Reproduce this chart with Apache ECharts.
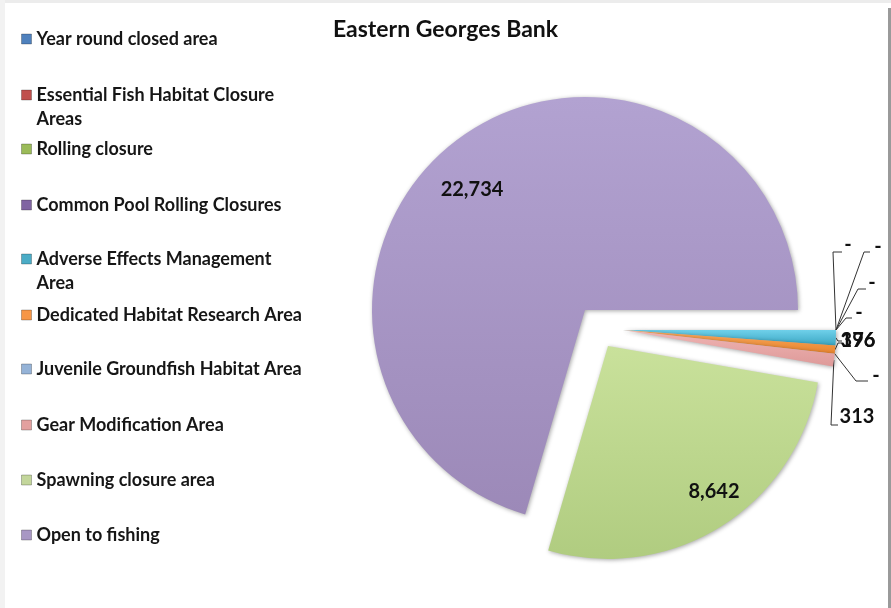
<!DOCTYPE html>
<html><head><meta charset="utf-8">
<script src="https://cdn.jsdelivr.net/npm/echarts@6/dist/echarts.min.js"></script>
<style>html,body{margin:0;padding:0;background:#fff}#c{width:891px;height:608px}</style>
</head><body><div id="c"></div>
<script>
const chartTitle = 'Eastern Georges Bank';
const categories = ['Year round closed area','Essential Fish Habitat Closure Areas','Rolling closure','Common Pool Rolling Closures','Adverse Effects Management Area','Dedicated Habitat Research Area','Juvenile Groundfish Habitat Area','Gear Modification Area','Spawning closure area','Open to fishing'];
const values = [0,0,0,0,376,196,0,313,8642,22734];
const legendLabels = ['Year round closed area','Essential Fish Habitat Closure\nAreas','Rolling closure','Common Pool Rolling Closures','Adverse Effects Management\nArea','Dedicated Habitat Research Area','Juvenile Groundfish Habitat Area','Gear Modification Area','Spawning closure area','Open to fishing'];
const colors = ['#4f81bd','#c0504d','#9bbb59','#8064a2','#4bacc6','#f79646','#95b3d7','#e3a09f','#c3d69b','#a897c4'];

// exploded groups: which categories are drawn with which (offset) centre — layout only
const groups = [
  {center:[623,330], members:[0,1,2,3,4,5,6,7]},
  {center:[608,346], members:[8]},
  {center:[585,310], members:[9]}
];

// label placement (layout only)
const labelPlace = [
  {x:848,y:245, pts:[[833,252],[842,252]]},
  {x:878,y:247, pts:[[864,252],[870,252]]},
  {x:872,y:283, pts:[[858,289],[866,289]]},
  {x:859,y:313, pts:[[846,318],[852,318]]},
  {x:858,y:341, pts:[[838,341],[842,341]]},
  {x:858,y:341, pts:[[838,343],[842,343]]},
  {x:876,y:376, pts:[[856,381],[868,381]]},
  {x:857,y:417, pts:[[831,425],[838,425]]},
  {x:714,y:492},
  {x:472,y:190}
];

const fontFam = 'Lato, "Noto Sans", sans-serif';
const chart = echarts.init(document.getElementById('c'));

function grad(c1,c2){return new echarts.graphic.LinearGradient(0,0,0,1,[{offset:0,color:c1},{offset:1,color:c2}]);}
const sliceFill = [null,null,null,null,grad('#6fd0ea','#3aa6c2'),grad('#f9a85c','#e9862f'),null,grad('#efb4b3','#de9a99'),grad('#c9e19b','#b0cc80'),grad('#b2a2d1','#9c89b8')];

const legendTops = [39,95,149,205,259,315,369,425,480,535];
const legends = categories.map((name,i)=>{
  const multi = legendLabels[i].indexOf('\n')>=0;
  return {
    data:[{name, itemStyle:{color:colors[i], borderColor:'rgba(0,0,0,0.25)', borderWidth:1}}], orient:'vertical', left:21, top: multi ? legendTops[i]-36 : legendTops[i]-12,
    padding:0, itemWidth:10, itemHeight:10, icon:'rect', selectedMode:false,
    formatter: ()=> multi ? '\n'+legendLabels[i] : legendLabels[i],
    textStyle:{fontFamily:fontFam,fontWeight:'bold',fontSize:18,color:'#161616',lineHeight:24}
  };
});

const series = groups.map((g)=>({
  type:'pie',
  center:g.center,
  radius:213,
  startAngle:0,
  clockwise:true,
  avoidLabelOverlap:false,
  silent:true,
  data: categories.map((name,i)=>{
    const vis = g.members.indexOf(i)>=0;
    return {
      name, value: values[i],
      itemStyle: vis ? {color: sliceFill[i] || colors[i], shadowBlur:4, shadowColor:'rgba(0,0,0,0.35)', shadowOffsetX:1, shadowOffsetY:1}
                     : {color:'rgba(0,0,0,0)', borderWidth:0},
      label:{show: vis},
      labelLine:{show: vis && i<8}
    };
  }),
  label:{show:true, position:'outside', formatter:p=> p.value===0 ? '-' : p.value.toLocaleString('en-US'),
    fontFamily:fontFam,fontWeight:'bold',fontSize:20,color:'#111'},
  labelLine:{lineStyle:{color:'#333',width:1}},
  emphasis:{disabled:true},
  labelLayout: function(p){
    if (g.members.indexOf(p.dataIndex)<0) return {};
    const lp = labelPlace[p.dataIndex];
    const o = {x:lp.x, y:lp.y, align:'center', verticalAlign:'middle'};
    if (lp.pts && p.labelLinePoints) {
      o.labelLinePoints = [p.labelLinePoints[0], lp.pts[0], lp.pts[1]];
    }
    return o;
  }
}));

chart.setOption({
  backgroundColor:'#ffffff',
  animation:false,
  title:{text:chartTitle,left:'center',top:13,textStyle:{fontFamily:fontFam,fontWeight:'bold',fontSize:23,color:'#111'}},
  legend: legends,
  graphic:[
    {type:'rect', silent:true, shape:{x:0,y:0,width:891,height:3}, style:{fill:'#ececec'}},
    {type:'rect', silent:true, shape:{x:0,y:0,width:5,height:608}, style:{fill:'#f2f2f2'}},
    {type:'rect', silent:true, shape:{x:888,y:8,width:3,height:600}, style:{fill:'#9a9a9a'}}
  ],
  series: series
});
</script></body></html>
